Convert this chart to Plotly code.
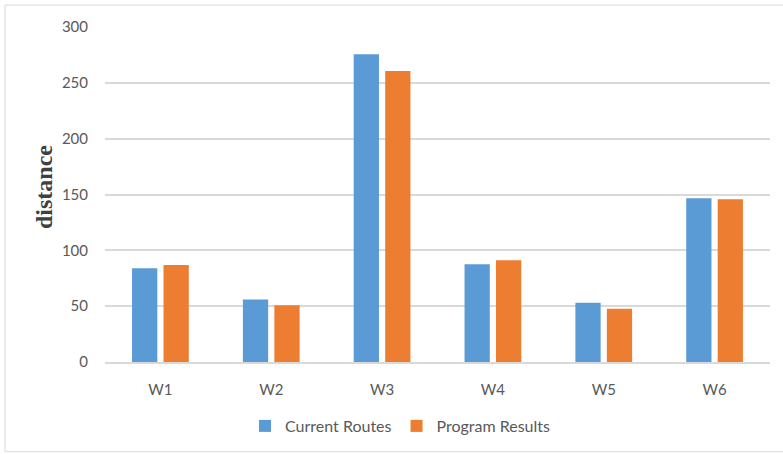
import plotly.graph_objects as go

categories = ["W1", "W2", "W3", "W4", "W5", "W6"]
current_routes = [84, 56, 275.5, 87.6, 53, 146.7]
program_results = [86.8, 50.8, 260.7, 91.2, 47.6, 145.8]
y_ticks = [0, 50, 100, 150, 200, 250, 300]

fig = go.Figure()
fig.add_trace(go.Bar(
    x=categories, y=current_routes, name="Current Routes",
    marker=dict(color="#5B9BD5", line=dict(width=0)),
    width=0.228, offset=-0.256,
))
fig.add_trace(go.Bar(
    x=categories, y=program_results, name="Program Results",
    marker=dict(color="#ED7D31", line=dict(width=0)),
    width=0.228, offset=0.028,
))

L, R, T, B = 105, 13, 27, 91
W, H = 783, 454
pw, ph = W - L - R, H - T - B

def px(x):
    return (x - L) / pw

def py(y):
    return (H - B - y) / ph

fig.update_layout(
    width=W, height=H,
    margin=dict(l=L, r=R, t=T, b=B),
    paper_bgcolor="white", plot_bgcolor="white",
    font=dict(family="Lato, 'Open Sans', sans-serif", size=15, color="#595959"),
    showlegend=True,
    legend=dict(orientation="h", x=px(245), y=py(426), xanchor="left", yanchor="middle",
                font=dict(size=16, color="#595959"), itemwidth=30,
                bgcolor="rgba(0,0,0,0)"),
    xaxis=dict(showgrid=False, showline=True, linecolor="#d9d9d9", linewidth=1.5,
               ticks="", tickfont=dict(size=15, color="#595959"), ticklabelstandoff=13),
    yaxis=dict(range=[0, 300], tickvals=y_ticks, showgrid=True, gridcolor="#d9d9d9",
               gridwidth=1.5, zeroline=False, showline=False, ticks="",
               tickfont=dict(size=15, color="#595959"), ticklabelstandoff=16),
    annotations=[dict(text="<b>distance</b>", x=px(43.5), y=py(187), xref="paper", yref="paper",
                      xanchor="center", yanchor="middle",
                      textangle=-90, showarrow=False,
                      font=dict(family="'Liberation Serif', 'Times New Roman', serif", size=24, color="#404040"))],
    shapes=[dict(type="rect", xref="paper", yref="paper", x0=px(5), x1=px(800), y0=py(453), y1=py(5),
                 line=dict(color="#d9d9d9", width=1), layer="below")],
)

fig.write_html("out.html")
